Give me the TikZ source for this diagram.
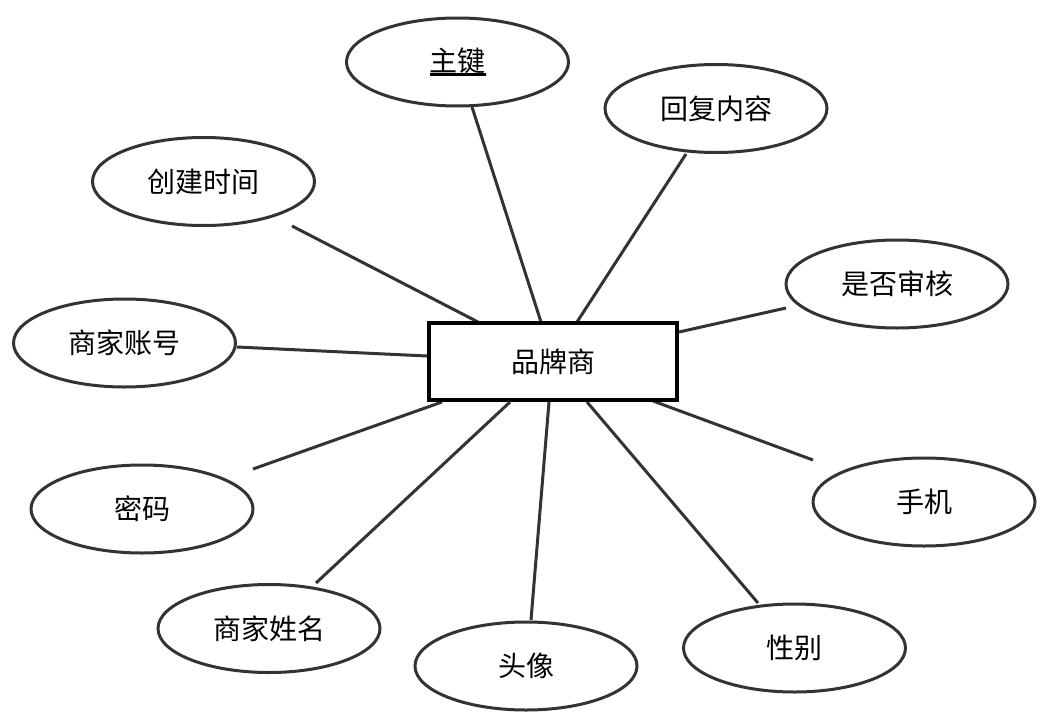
\documentclass[tikz,border=0pt]{standalone}
\usepackage{fontspec}
\setmainfont{Noto Sans CJK SC}
\usetikzlibrary{shapes.geometric}
\newcommand\myul[1]{\setbox0\hbox{#1}\leavevmode\rlap{\rule[-4.5pt]{\wd0}{2.6pt}}\box0}
\tikzset{
  attr/.style={ellipse, draw=black!80, line width=3pt, fill=white,
    minimum width=222pt, minimum height=88pt, inner sep=0pt,
    font=\fontsize{28}{30}\selectfont},
  entity/.style={rectangle, draw=black, line width=4pt, fill=white,
    minimum width=248pt, minimum height=77pt, inner sep=0pt,
    font=\fontsize{28}{30}\selectfont},
  conn/.style={draw=black!80, line width=3pt}
}
\begin{document}
\begin{tikzpicture}[x=1pt,y=-1pt]
\useasboundingbox (0,0) rectangle (1064,720);
% connector end points
\coordinate (a1) at (472,107); \coordinate (b1) at (541,322);
\coordinate (a2) at (686,154); \coordinate (b2) at (577,322);
\coordinate (a3) at (292,226); \coordinate (b3) at (478,322);
\coordinate (a4) at (786,308); \coordinate (b4) at (679,332);
\coordinate (a5) at (237,347); \coordinate (b5) at (427,356);
\coordinate (a6) at (253,469); \coordinate (b6) at (442,402);
\coordinate (a7) at (813,460); \coordinate (b7) at (653,401);
\coordinate (a8) at (316,583); \coordinate (b8) at (510,402);
\coordinate (a9) at (531,620); \coordinate (b9) at (549,402);
\coordinate (a10) at (758,603); \coordinate (b10) at (587,402);
\foreach \i in {1,...,10} { \draw[conn] (a\i) -- (b\i); }
% nodes
\node[entity] (ent) at (553,361.5) {品牌商};
\node[attr] (zj) at (457.5,62) {\myul{主键}};
\node[attr] (hf) at (716,108.5) {回复内容};
\node[attr] (cj) at (203.5,181.5) {创建时间};
\node[attr] (sf) at (897,284) {是否审核};
\node[attr] (zh) at (124.5,343) {商家账号};
\node[attr] (mm) at (142,509) {密码};
\node[attr] (sj) at (924,502) {手机};
\node[attr] (xm) at (269,628.5) {商家姓名};
\node[attr] (tx) at (526,666) {头像};
\node[attr] (xb) at (794.5,648) {性别};
\end{tikzpicture}
\end{document}
